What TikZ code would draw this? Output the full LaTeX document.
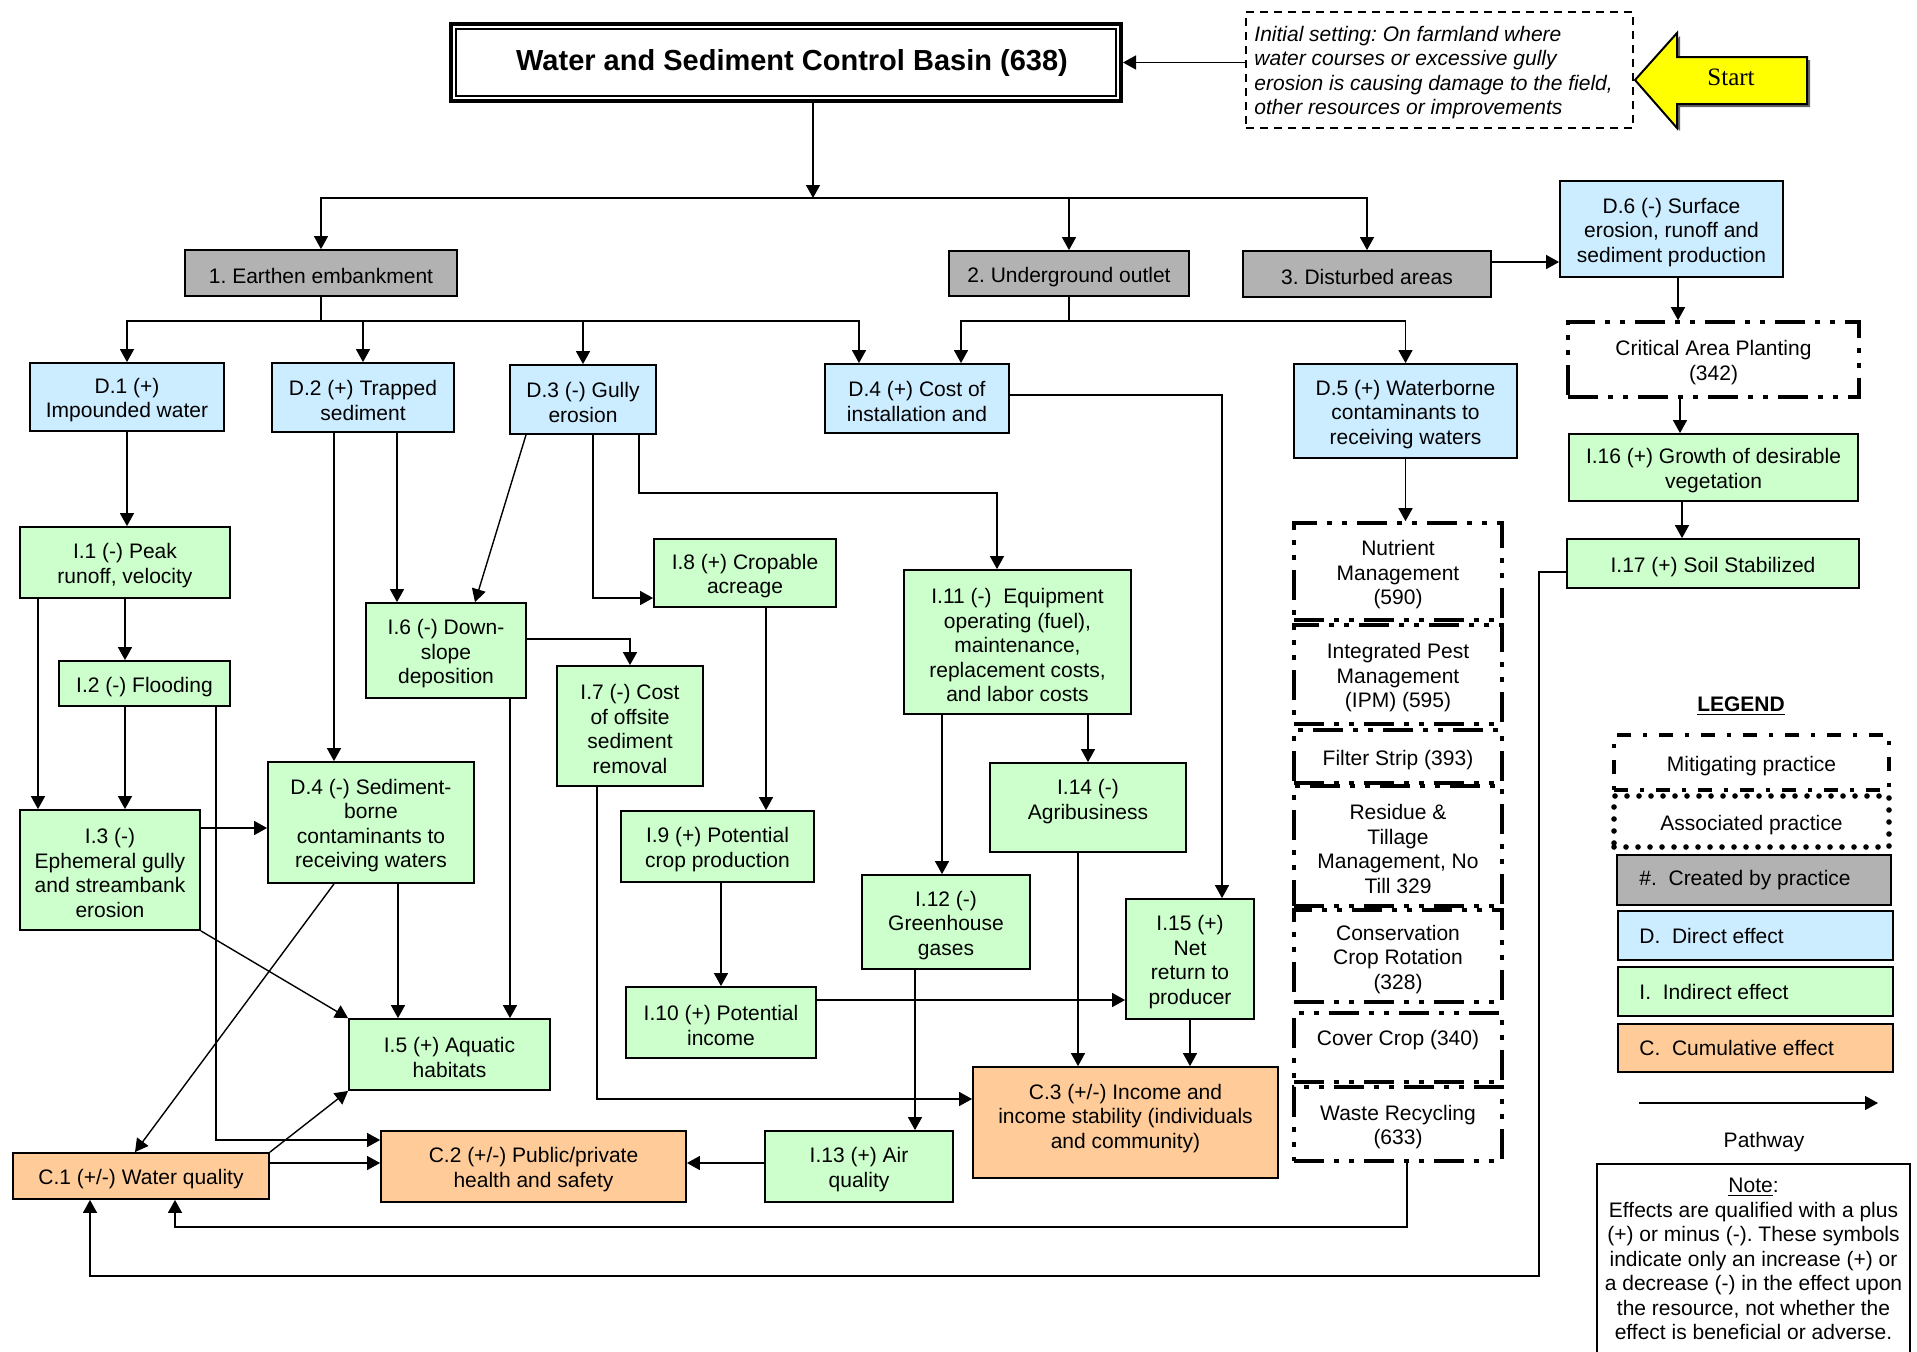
\documentclass[tikz,border=0pt]{standalone}
\usepackage{fontspec}
\setmainfont{Liberation Sans}
\newfontfamily\startserif{Liberation Serif}
\usetikzlibrary{arrows.meta,fit,calc}
\definecolor{dblue}{RGB}{204,236,255}
\definecolor{igreen}{RGB}{204,255,204}
\definecolor{corange}{RGB}{255,204,153}
\definecolor{ggray}{RGB}{178,178,178}
\definecolor{syellow}{RGB}{255,255,0}
\frenchspacing
\newcommand\fs{\fontsize{10.5pt}{12.25pt}\selectfont}
\tikzset{
  bx/.style={draw, line width=0.9pt, inner sep=0pt},
  dfx/.style={bx, fill=dblue},
  ifx/.style={bx, fill=igreen},
  cfx/.style={bx, fill=corange},
  gfx/.style={bx, fill=ggray},
  prac/.style={bx, line width=1.8pt, dash pattern=on 15pt off 5pt on 2.5pt off 5pt on 2.5pt off 5pt},
  legmit/.style={bx, line width=2pt, dash pattern=on 7pt off 6pt on 2pt off 6pt},
  legass/.style={bx, line width=2.8pt, line cap=round, dash pattern=on 0pt off 6pt},
  txt/.style={inner sep=0pt, align=center, font=\fs},
  ln/.style={line width=0.7pt},
  arr/.style={line width=0.7pt, -{Triangle[length=6.5pt,width=7pt]}},
}
% box node (empty, fitted to two corners) plus its centred text node
\newcommand\mkbox[5]{\node[#1, fit={(#3) (#4)}] (#2) {};
  \node[txt, yshift=-1.6pt] (#2t) at (#2.center) {#5};}
\begin{document}
\begin{tikzpicture}[x=0.5pt,y=-0.5pt]
\useasboundingbox (0,0) rectangle (1917,1351);

% Title
\node[draw, line width=2pt, inner sep=0pt, fit={(451,24) (1121,101)}] (title) {};
\draw[line width=0.6pt] ([shift={(3.5pt,-3.5pt)}]title.north west) rectangle ([shift={(-3.5pt,3.5pt)}]title.south east);
\node[inner sep=0pt, font=\bfseries\fontsize{14.5pt}{17pt}\selectfont] (titlet) at ([xshift=3pt]title.center) {Water and Sediment Control Basin (638)};

% Initial setting
\node[draw, line width=0.8pt, dash pattern=on 4pt off 3pt, inner sep=0pt, fit={(1246,12) (1633,128)}] (init) {};
\node[anchor=west, align=left, inner sep=0pt, font=\fs\itshape] (initt) at (1254,72.5)
  {Initial setting: On farmland where\\water courses or excessive gully\\erosion is causing damage to the field,\\other resources or improvements};

% Start arrow
\fill[black!60] (1638,83) -- (1680,36) -- (1680,60) -- (1810,60) -- (1810,107) -- (1680,107) -- (1680,131) -- cycle;
\draw[fill=syellow, line width=1pt] (1635,80) -- (1677,33) -- (1677,57) -- (1807,57) -- (1807,104) -- (1677,104) -- (1677,128) -- cycle;
\node[inner sep=0pt, font=\startserif\fontsize{12.5pt}{14pt}\selectfont] (start) at (1731,77) {Start};

% Created by practice
\mkbox{gfx}{g1}{185,250}{457,296}{1. Earthen embankment}
\mkbox{gfx}{g2}{949,251}{1189,296}{2. Underground outlet}
\mkbox{gfx}{g3}{1243,251}{1491,297}{3. Disturbed areas}

% Direct effects
\mkbox{dfx}{d1}{30,363}{224,431}{D.1 (+)\\Impounded water}
\mkbox{dfx}{d2}{272,363}{454,432}{D.2 (+) Trapped\\sediment}
\mkbox{dfx}{d3}{510,365}{656,434}{D.3 (-) Gully\\erosion}
\mkbox{dfx}{d4}{825,364}{1009,433}{D.4 (+) Cost of\\installation and}
\mkbox{dfx}{d5}{1294,364}{1517,458}{D.5 (+) Waterborne\\contaminants to\\receiving waters}
\mkbox{dfx}{d6}{1560,181}{1783,277}{D.6 (-) Surface\\erosion, runoff and\\sediment production}

% Indirect effects
\mkbox{ifx}{i1}{20,527}{230,598}{I.1 (-) Peak\\runoff, velocity}
\mkbox{ifx}{i2}{59,661}{230,706}{I.2 (-) Flooding}
\mkbox{ifx}{i3}{20,810}{200,930}{I.3 (-)\\Ephemeral gully\\and streambank\\erosion}
\mkbox{ifx}{d4m}{268,762}{474,883}{D.4 (-) Sediment-\\borne\\contaminants to\\receiving waters}
\mkbox{ifx}{i5}{349,1019}{550,1090}{I.5 (+) Aquatic\\habitats}
\mkbox{ifx}{i6}{366,603}{526,698}{I.6 (-) Down-\\slope\\deposition}
\mkbox{ifx}{i7}{557,666}{703,786}{I.7 (-) Cost\\of offsite\\sediment\\removal}
\mkbox{ifx}{i8}{654,539}{836,607}{I.8 (+) Cropable\\acreage}
\mkbox{ifx}{i9}{621,811}{814,882}{I.9 (+) Potential\\crop production}
\mkbox{ifx}{i10}{626,987}{816,1058}{I.10 (+) Potential\\income}
\mkbox{ifx}{i11}{904,570}{1131,714}{I.11 (-)\ \ Equipment\\operating (fuel),\\maintenance,\\replacement costs,\\and labor costs}
\mkbox{ifx}{i12}{862,875}{1030,969}{I.12 (-)\\Greenhouse\\gases}
\mkbox{ifx}{i13}{765,1131}{953,1202}{I.13 (+) Air\\quality}
\node[ifx, fit={(990,763) (1186,852)}] (i14) {};
\node[txt, yshift=3pt] (i14t) at (i14.center) {I.14 (-)\\Agribusiness};
\mkbox{ifx}{i15}{1126,899}{1254,1019}{I.15 (+)\\Net\\return to\\producer}
\mkbox{ifx}{i16}{1569,434}{1858,501}{I.16 (+) Growth of desirable\\vegetation}
\mkbox{ifx}{i17}{1567,539}{1859,588}{I.17 (+) Soil Stabilized}

% Cumulative effects
\mkbox{cfx}{c1}{13,1153}{269,1199}{C.1 (+/-) Water quality}
\mkbox{cfx}{c2}{381,1131}{686,1202}{C.2 (+/-) Public/private\\health and safety}
\node[cfx, fit={(973,1067) (1278,1178)}] (c3) {};
\node[txt, yshift=2pt] (c3t) at (c3.center) {C.3 (+/-) Income and\\income stability (individuals\\and community)};

% Practices
\mkbox{prac}{cap}{1568,322}{1859,397}{Critical Area Planting\\(342)}
\mkbox{prac}{nm}{1294,523}{1502,620}{Nutrient\\Management\\(590)}
\mkbox{prac}{ipm}{1294,625}{1502,724}{Integrated Pest\\Management\\(IPM) (595)}
\mkbox{prac}{fst}{1294,730}{1502,783}{Filter Strip (393)}
\mkbox{prac}{rt}{1294,786}{1502,906}{Residue \&\\Tillage\\Management, No\\Till 329}
\mkbox{prac}{ccr}{1294,910}{1502,1002}{Conservation\\Crop Rotation\\(328)}
\node[prac, fit={(1294,1013) (1502,1082)}] (cc) {};
\node[txt, yshift=3.5pt] (cct) at (cc.center) {Cover Crop (340)};
\mkbox{prac}{waste}{1294,1087}{1502,1161}{Waste Recycling\\(633)}

% Legend
\node[inner sep=0pt, font=\fs\bfseries] (legend) at (1741,706) {\underline{LEGEND}};
\mkbox{legmit}{lmit}{1614,735}{1889,790}{Mitigating practice}
\mkbox{legass}{lass}{1614,796}{1889,847}{Associated practice}
\node[gfx, fit={(1617,855) (1891,905)}] (lcre) {};
\node[txt, anchor=west] (lcret) at (lcre.west -| 1639,0) {\#.\ \ Created by practice};
\node[dfx, fit={(1618,911) (1893,960)}] (ldir) {};
\node[txt, anchor=west] (ldirt) at (ldir.west -| 1639,0) {D.\ \ Direct effect};
\node[ifx, fit={(1618,967) (1893,1016)}] (lind) {};
\node[txt, anchor=west] (lindt) at (lind.west -| 1639,0) {I.\ \ Indirect effect};
\node[cfx, fit={(1618,1024) (1893,1072)}] (lcum) {};
\node[txt, anchor=west] (lcumt) at (lcum.west -| 1639,0) {C.\ \ Cumulative effect};
\coordinate (pwa) at (1639,1103);
\coordinate (pwb) at (1878,1103);
\draw[arr] (pwa) -- (pwb);
\node[txt] (pathway) at (1764,1142) {Pathway};
\node[draw, line width=0.8pt, inner sep=0pt, fit={(1597,1164) (1910,1365)}] (note) {};
\node[txt] (notet) at (1753.5,1259) {\underline{Note}:\\Effects are qualified with a plus\\(+) or minus (-). These symbols\\indicate only an increase (+) or\\a decrease (-) in the effect upon\\the resource, not whether the\\effect is beneficial or adverse.};

% Connectors
\draw[arr] (init.west |- title.east) -- (title.east);
\coordinate (bus1) at (813,198);
\draw[arr] (title.south -| bus1) -- (bus1);
\draw[arr] (bus1) -| (g1.north);
\draw[arr] (bus1) -| (g2.north);
\draw[arr] (bus1) -| (g3.north);
\draw[arr] (g3.east |- 0,262) -- (d6.west |- 0,262);

\coordinate (bus2) at (g1.south |- 0,321);
\draw[ln] (g1.south) -- (bus2);
\draw[arr] (bus2) -| (d1.north);
\draw[arr] (bus2) -| (d2.north);
\draw[arr] (bus2) -| (d3.north);
\draw[arr] (bus2) -| (d4.north -| 859,0);

\coordinate (bus3) at (g2.south |- 0,321);
\draw[ln] (g2.south) -- (bus3);
\draw[arr] (bus3) -| (d4.north -| 961,0);
\draw[arr] (bus3) -| (d5.north);

\draw[arr] (d6.south -| 1678,0) -- (cap.north -| 1678,0);
\draw[arr] (cap.south -| 1680,0) -- (i16.north -| 1680,0);
\draw[arr] (i16.south -| 1682,0) -- (i17.north -| 1682,0);
\draw[arr] (i17.west |- 0,572) -| (1539,1276) -| (c1.south -| 90,0);
\draw[arr] (waste.south -| 1407,0) |- (175,1227) -- (c1.south -| 175,0);

\draw[arr] (d1.south) -- (d1.south |- i1.north);
\draw[arr] (i1.south) -- (i1.south |- i2.north);
\draw[arr] (i1.south -| 38,0) -- (i3.north -| 38,0);
\draw[arr] (i2.south -| i1.south) -- (i3.north -| i1.south);
\draw[arr] (i2.south -| 216,0) |- (c2.west |- 0,1140);
\draw[arr] (i3.east |- 0,828) -- (d4m.west |- 0,828);
\draw[arr] (d2.south -| 334,0) -- (d4m.north -| 334,0);
\draw[arr] (d2.south -| 397,0) -- (i6.north -| 397,0);
\draw[arr] (d3.south -| 526,0) -- (i6.north -| 475,0);
\draw[arr] (d3.south -| 593,0) |- (i8.west |- 0,598);
\draw[arr] (d3.south -| 639,0) |- (997,493) -- (i11.north -| 997,0);
\draw[arr] (i6.east |- 0,639) -| (i7.north);
\draw[arr] (i6.south -| 510,0) -- (i5.north -| 510,0);
\draw[arr] (d4m.south -| 398,0) -- (i5.north -| 398,0);
\draw[arr] (d4m.south -| 334,0) -- (c1.north -| 135,0);
\draw[arr] (i3.south east) -- (i5.north west);
\draw[arr] (c1.north east) -- (i5.south west);
\draw[arr] (c1.east |- 0,1163) -- (c2.west |- 0,1163);
\draw[arr] (i13.west |- 0,1163) -- (c2.east |- 0,1163);
\draw[arr] (i12.south -| 915,0) -- (i13.north -| 915,0);
\draw[arr] (i8.south -| 766,0) -- (i9.north -| 766,0);
\draw[arr] (i9.south -| i10.north) -- (i10.north);
\draw[arr] (i10.east |- 0,1000) -- (i15.west |- 0,1000);
\draw[arr] (i7.south -| 597,0) |- (c3.west |- 0,1099);
\draw[arr] (i11.south -| 942,0) -- (i12.north -| 942,0);
\draw[arr] (i11.south -| i14.north) -- (i14.north);
\draw[arr] (i14.south -| 1078,0) -- (c3.north -| 1078,0);
\draw[arr] (i15.south) -- (i15.south |- c3.north);
\draw[arr] (d4.east |- 0,395) -| (i15.north -| 1222,0);
\draw[arr] (d5.south) -- (d5.south |- nm.north);
\end{tikzpicture}
\end{document}
